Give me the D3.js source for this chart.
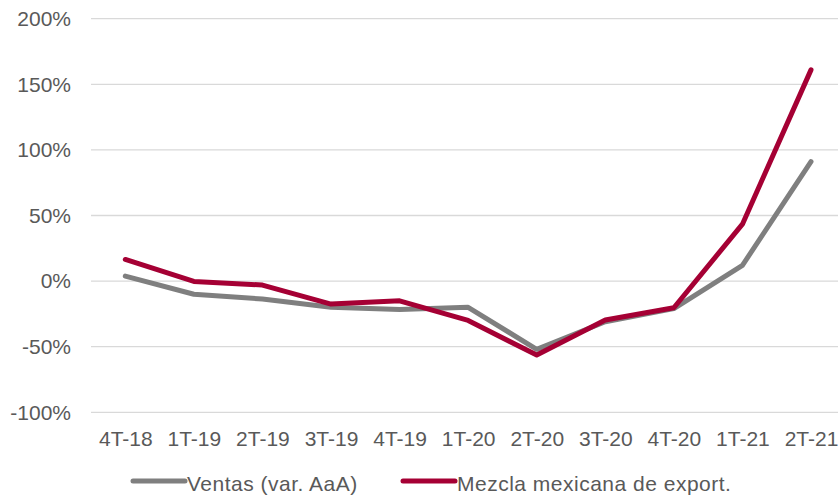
<!DOCTYPE html>
<html>
<head>
<meta charset="utf-8">
<script src="https://cdn.jsdelivr.net/npm/d3@7"></script>
<style>
  body { margin: 0; background: #fff; }
  svg { font-family: "Liberation Sans", Arial, sans-serif; }
</style>
</head>
<body>
<svg id="chart" width="838" height="496"></svg>
<script>
// categorias trimestrales
var periods = ["4T-18", "1T-19", "2T-19", "3T-19", "4T-19", "1T-20", "2T-20", "3T-20", "4T-20", "1T-21", "2T-21"];
// variacion anual, %
var ventas = [3.8, -10, -13.7, -20, -21.6, -20, -52, -31, -21, 12, 91];
var mezcla = [16.5, -0.3, -3, -17.5, -15, -30, -56.4, -29.7, -20.3, 43.4, 161];
var yTicks = [-100, -50, 0, 50, 100, 150, 200];
var seriesNames = ["Ventas (var. AaA)", "Mezcla mexicana de export."];
var colors = ["#7f7f7f", "#a50034"];

var svg = d3.select("#chart");

var x = d3.scalePoint().domain(periods).range([125.3, 811]);
var y = d3.scaleLinear().domain([-100, 200]).range([412.3, 18.7]);

// grid
svg.append("g").selectAll("line")
    .data(yTicks)
    .enter().append("line")
    .attr("x1", 91).attr("x2", 838)
    .attr("y1", d => y(d)).attr("y2", d => y(d))
    .attr("stroke", "#d9d9d9").attr("stroke-width", 1.3);

// y axis labels
var yAxis = d3.axisLeft(y).tickValues(yTicks).tickSize(0).tickPadding(0)
    .tickFormat(d => d + "%");
svg.append("g").attr("transform", "translate(71,0)").call(yAxis)
    .call(g => g.select(".domain").remove())
    .selectAll("text").attr("font-size", 21).attr("fill", "#595959")
    .attr("font-family", "Liberation Sans, Arial, sans-serif");

// x axis labels
var xAxis = d3.axisBottom(x).tickSize(0).tickPadding(0);
svg.append("g").attr("transform", "translate(0,431)").call(xAxis)
    .call(g => g.select(".domain").remove())
    .selectAll("text").attr("font-size", 21).attr("fill", "#595959")
    .attr("font-family", "Liberation Sans, Arial, sans-serif");

var line = d3.line().x((d, i) => x(periods[i])).y(d => y(d));

[ventas, mezcla].forEach(function(s, i) {
    svg.append("path").datum(s)
        .attr("d", line)
        .attr("fill", "none")
        .attr("stroke", colors[i])
        .attr("stroke-width", 5)
        .attr("stroke-linejoin", "round")
        .attr("stroke-linecap", "round");
});

// legend
var legendX = [133, 403];
seriesNames.forEach(function(name, i) {
    var g = svg.append("g").attr("transform", "translate(" + legendX[i] + ",481)");
    g.append("line").attr("x1", 0).attr("x2", 52)
        .attr("stroke", colors[i]).attr("stroke-width", 5).attr("stroke-linecap", "round");
    g.append("text").attr("x", 54).attr("y", 10)
        .attr("font-size", 21).attr("letter-spacing", 0.5)
        .attr("fill", "#595959").text(name);
});
</script>
</body>
</html>
